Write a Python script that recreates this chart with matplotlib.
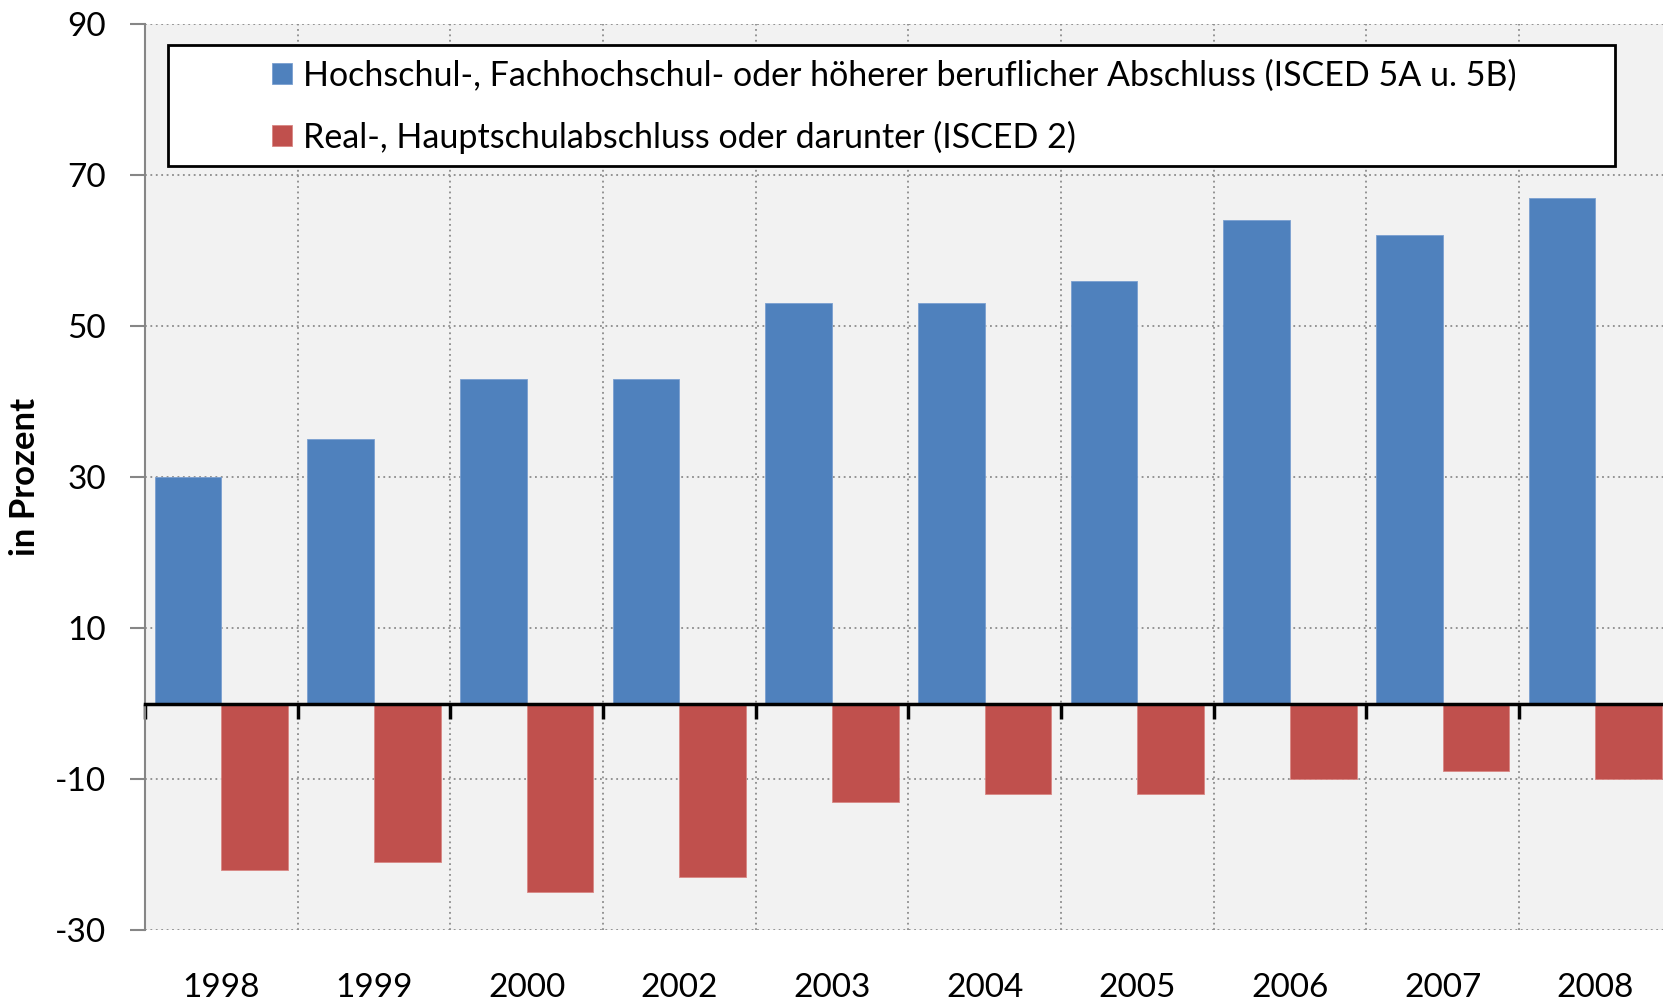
import numpy as np
import matplotlib.pyplot as plt
from matplotlib.patches import Rectangle
from matplotlib.transforms import blended_transform_factory

years = ['1998', '1999', '2000', '2002', '2003', '2004', '2005', '2006', '2007', '2008']
hochschule = [30, 35, 43, 43, 53, 53, 56, 64, 62, 67]
hauptschule = [-22, -21, -25, -23, -13, -12, -12, -10, -9, -10]
label_hoch = 'Hochschul-, Fachhochschul- oder höherer beruflicher Abschluss (ISCED 5A u. 5B)'
label_haupt = 'Real-, Hauptschulabschluss oder darunter (ISCED 2)'
yticks = [-30, -10, 10, 30, 50, 70, 90]

blue = '#4f81bd'
red = '#c0504d'
fs = 24
plt.rcParams['font.family'] = ['Lato', 'DejaVu Sans']

fig = plt.figure(figsize=(16.63, 10.05), dpi=100)
ax = fig.add_axes([0.0872, 0.0746, 0.918, 0.9015])
ax.set_facecolor('#f2f2f2')

x = np.arange(len(years))
w = 0.436
ax.bar(x - w/2, hochschule, w, color=blue, edgecolor='#7a9fd0', linewidth=0.6, zorder=3, label=label_hoch)
ax.bar(x + w/2, hauptschule, w, color=red, edgecolor='#d88784', linewidth=0.6, zorder=3, label=label_haupt)

ax.set_xlim(-0.5, len(years) - 0.5)
ax.set_ylim(-30, 90)
ax.set_yticks(yticks)
ax.set_yticklabels([str(v) for v in yticks], fontsize=fs)
ax.tick_params(axis='y', direction='out', length=11, width=1.5, color='#868686', pad=17)

# category boundaries as ticks on the zero line
ax.set_xticks(np.arange(len(years) + 1) - 0.5)
ax.set_xticklabels([])
ax.tick_params(axis='x', direction='out', length=11, width=2.5, color='black')
ax.spines['bottom'].set_position(('data', 0))
ax.spines['bottom'].set_linewidth(2.5)
ax.spines['bottom'].set_zorder(4)
ax.spines['left'].set_color('#868686')
ax.spines['left'].set_linewidth(1.5)
ax.spines['top'].set_visible(False)
ax.spines['right'].set_visible(False)

ax.grid(True, which='major', color='#8c8c8c', linestyle=(0, (1, 2)), linewidth=1.3, zorder=1)
ax.set_axisbelow(True)

trans = blended_transform_factory(ax.transData, ax.transAxes)
for i, yr in enumerate(years):
    ax.text(x[i], -0.064, yr, transform=trans, ha='center', va='center', fontsize=fs)

ax.set_ylabel('in Prozent', fontsize=fs + 1, fontweight='bold')
ax.yaxis.set_label_coords(-0.068, 0.5)

ax.add_patch(Rectangle((0.0151, 0.8433), 0.9479, 0.1335, transform=ax.transAxes,
                       facecolor='white', edgecolor='black', linewidth=2, zorder=5))
leg = ax.legend(loc='center left', bbox_to_anchor=(0.0832, 0.909), frameon=False, fontsize=24.5,
                borderpad=0, borderaxespad=0, handlelength=0.6, handleheight=0.6,
                handletextpad=0.3, labelspacing=0.85)
leg.set_zorder(6)

fig.savefig('out.png', dpi=100)
